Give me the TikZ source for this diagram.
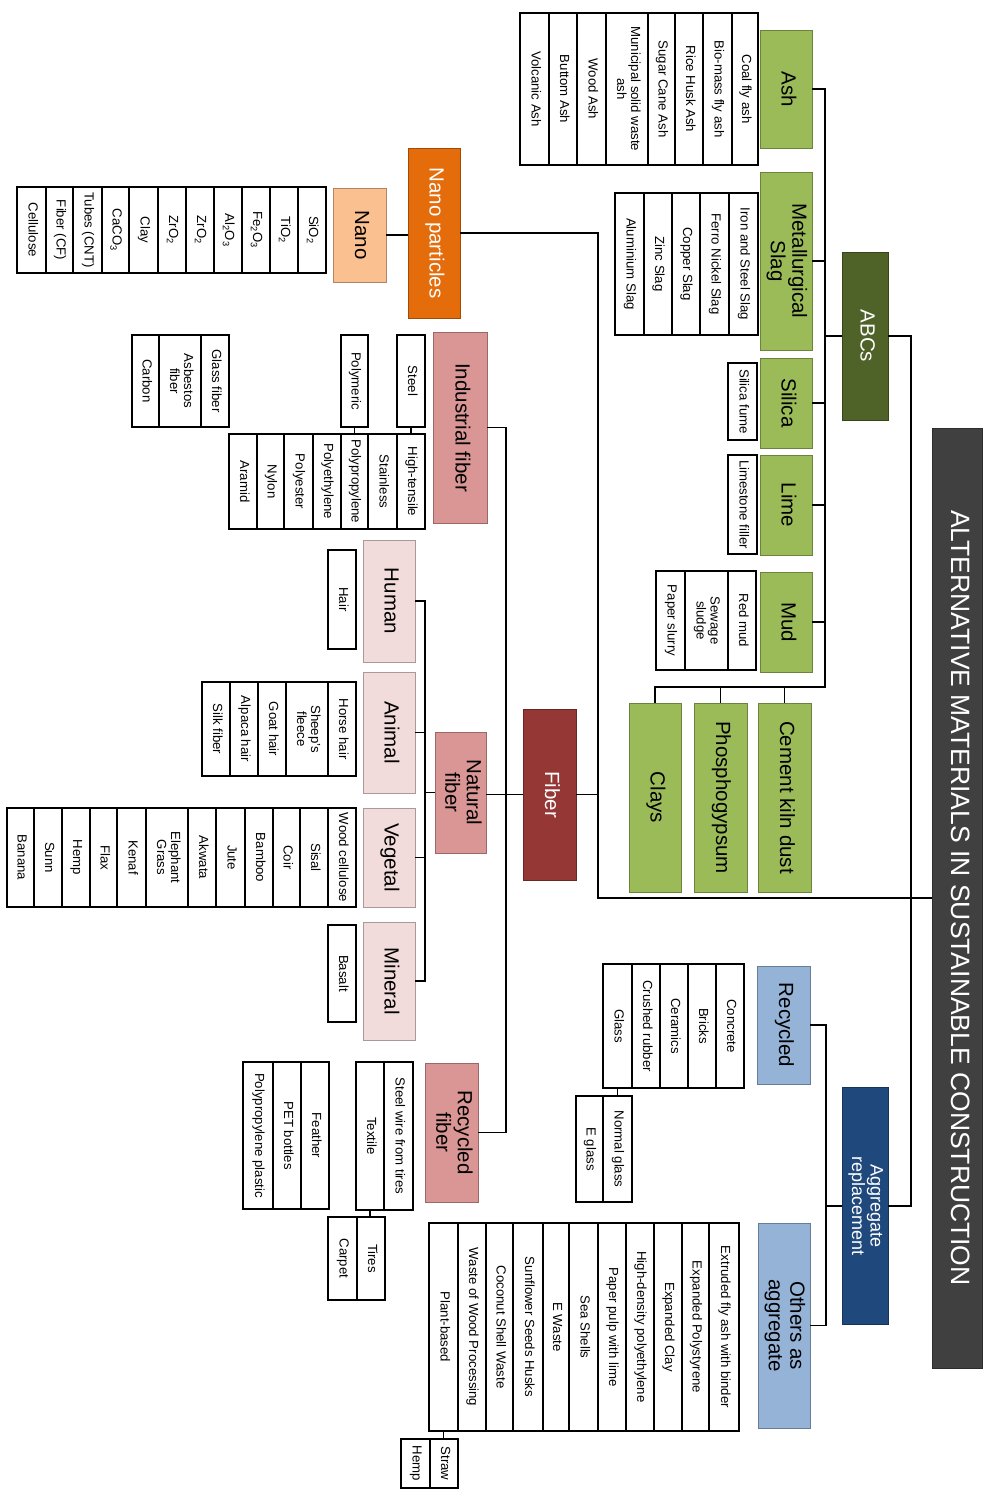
\documentclass[tikz,border=0pt]{standalone}
\usepackage{fontspec}
\setmainfont{Liberation Sans}
\usepackage{graphicx}
\definecolor{grn}{HTML}{9BBB59}
\definecolor{olv}{HTML}{4F6228}
\definecolor{ora}{HTML}{E46C0A}
\definecolor{lora}{HTML}{FAC090}
\definecolor{dred}{HTML}{953735}
\definecolor{pnk}{HTML}{D99694}
\definecolor{lpnk}{HTML}{F2DCDB}
\definecolor{dblu}{HTML}{1F497D}
\definecolor{lblu}{HTML}{95B3D7}
\definecolor{ttl}{HTML}{404040}
\newcommand\rtxt[1]{\rotatebox{-90}{\begin{tabular}{@{}c@{}}#1\end{tabular}}}
\newcommand\celltab[4]{\foreach \xa/\xb/\tx [count=\k] in {#4} {\node[cellbox, minimum width={\xb-\xa}, minimum height=#3] (#1\k) at ({(\xa+\xb)/2},#2) {\rtxt{\tx}};}}
\begin{document}
\begin{tikzpicture}[x=1pt,y=-1pt,
  cellbox/.style={draw, line width=1.5pt, fill=white, inner sep=0pt, font=\fontsize{13.2}{14}\selectfont},
  colbox/.style={fill=#1, draw=#1!70!black, line width=0.8pt, inner sep=0pt},
  bigtxt/.style={font=\fontsize{20.5}{21.5}\selectfont},
  conn/.style={line width=1.4pt, black}]
\fill[white] (0,0) rectangle (987,1491);
\useasboundingbox (0,0) rectangle (987,1491);

% title and main categories
\node[colbox=ttl, minimum width=50, minimum height=940, text=white, font=\fontsize{26.5}{27}\selectfont] (title) at (957,898) {\rtxt{ALTERNATIVE MATERIALS IN SUSTAINABLE CONSTRUCTION}};
\node[colbox=olv, minimum width=46, minimum height=168, text=white, bigtxt] (abcs) at (865,336) {\rtxt{ABCs}};
\node[colbox=dblu, minimum width=46, minimum height=237, text=white, font=\fontsize{18}{18}\selectfont] (agg) at (865,1206) {\rtxt{Aggregate\\replacement}};
\node[colbox=ora, minimum width=52, minimum height=170, text=white, bigtxt] (nanop) at (434,233) {\rtxt{Nano particles}};
\node[colbox=dred, minimum width=53, minimum height=171, text=white, bigtxt] (fiber) at (549.5,794.5) {\rtxt{Fiber}};

% ABCs children
\node[colbox=grn, minimum width=52, minimum height=118, bigtxt] (ash) at (786,89) {\rtxt{Ash}};
\node[colbox=grn, minimum width=52, minimum height=178, bigtxt] (slag) at (786,261) {\rtxt{Metallurgical\\Slag}};
\node[colbox=grn, minimum width=52, minimum height=90, bigtxt] (silica) at (786,403) {\rtxt{Silica}};
\node[colbox=grn, minimum width=52, minimum height=100, bigtxt] (lime) at (786,505) {\rtxt{Lime}};
\node[colbox=grn, minimum width=52, minimum height=100, bigtxt] (mud) at (786,622) {\rtxt{Mud}};
\node[colbox=grn, minimum width=52, minimum height=189, bigtxt] (clays) at (655,797.5) {\rtxt{Clays}};
\node[colbox=grn, minimum width=53, minimum height=189, bigtxt] (phos) at (720.5,797.5) {\rtxt{Phosphogypsum}};
\node[colbox=grn, minimum width=53, minimum height=189, bigtxt] (ckd) at (784.5,797.5) {\rtxt{Cement kiln dust}};

\celltab{ashT}{89}{152}{732/758/Coal fly ash, 703/732/Bio-mass fly ash, 675/703/Rice Husk Ash, 648/675/Sugar Cane Ash, 606/648/{Municipal solid waste\\ash}, 577/606/Wood Ash, 549/577/Buttom Ash, 520/549/Volcanic Ash}
\celltab{slagT}{264}{142}{729/758/Iron and Steel Slag, 700/729/Ferro Nickel Slag, 672/700/Copper Slag, 644/672/Zinc Slag, 615/644/Aluminium Slag}
\celltab{silT}{401.5}{77}{728/757/Silica fume}
\celltab{limT}{504.5}{99}{728/757/Limestone filler}
\celltab{mudT}{620.5}{99}{728/756/Red mud, 685/728/{Sewage\\sludge}, 656/685/Paper slurry}

% Aggregate children
\node[colbox=lblu, minimum width=53, minimum height=118, bigtxt] (recyc) at (783.5,1025) {\rtxt{Recycled}};
\node[colbox=lblu, minimum width=52, minimum height=205, bigtxt] (others) at (784,1325.5) {\rtxt{Others as\\aggregate}};
\celltab{rgA}{1026}{124}{716/744/Concrete, 688/716/Bricks, 660/688/Ceramics, 632/660/Crushed rubber, 603/632/Glass}
\celltab{rgB}{1149}{106}{603/632/Normal glass, 576/603/E glass}
\celltab{oaA}{1327}{208}{709/739/Extruded fly ash with binder, 682/709/Expanded Polystyrene, 654/682/Expanded Clay, 626/654/High-density polyethylene, 598/626/Paper pulp with lime, 569/598/Sea Shells, 543/569/E Waste, 513/543/Sunflower Seeds Husks, 486/513/Coconut Shell Waste, 458/486/Waste of Wood Processing, 429/458/Plant-based}
\celltab{oaB}{1463.5}{49}{430/458/Straw, 401/430/Hemp}

% Nano
\node[colbox=lora, minimum width=53, minimum height=94, bigtxt] (nano) at (359.5,235) {\rtxt{Nano}};
\celltab{nanoT}{230}{86}{298/326/SiO\textsubscript{2}, 270/298/TiO\textsubscript{2}, 242/270/Fe\textsubscript{2}O\textsubscript{3}, 214/242/Al\textsubscript{2}O\textsubscript{3}, 186/214/ZrO\textsubscript{2}, 158/186/ZrO\textsubscript{2}, 129/158/Clay, 102/129/CaCO\textsubscript{3}, 73/102/Tubes (CNT), 46/73/Fiber (CF), 17/46/Cellulose}

% Fiber children
\node[colbox=pnk, minimum width=54, minimum height=191, bigtxt] (indf) at (460,427.5) {\rtxt{Industrial fiber}};
\node[colbox=pnk, minimum width=51, minimum height=121, bigtxt] (natf) at (460.5,792.5) {\rtxt{Natural\\fiber}};
\node[colbox=pnk, minimum width=53, minimum height=139, bigtxt] (recf) at (451.5,1132.5) {\rtxt{Recycled\\fiber}};

% Industrial
\celltab{steel}{381}{92}{397/425/Steel}
\celltab{polym}{381}{92}{341/368/Polymeric}
\celltab{indB}{481.5}{95}{397/425/High-tensile, 368/397/Stainless, 341/368/Polypropylene, 313/341/Polyethylene, 284/313/Polyester, 257/284/Nylon, 229/257/Aramid}
\celltab{glsT}{381}{92}{201/229/Glass fiber, 159/201/{Asbestos\\fiber}, 132/159/Carbon}

% Natural
\node[colbox=lpnk, minimum width=52, minimum height=122, bigtxt] (human) at (389,601) {\rtxt{Human}};
\node[colbox=lpnk, minimum width=52, minimum height=121, bigtxt] (animal) at (389,732.5) {\rtxt{Animal}};
\node[colbox=lpnk, minimum width=52, minimum height=99, bigtxt] (vegetal) at (389,857.5) {\rtxt{Vegetal}};
\node[colbox=lpnk, minimum width=52, minimum height=118, bigtxt] (mineral) at (389,981) {\rtxt{Mineral}};
\celltab{hairT}{599.5}{99}{328/356/Hair}
\celltab{aniT}{729}{94}{328/356/Horse hair, 286/328/{Sheep's\\fleece}, 258/286/Goat hair, 230/258/Alpaca hair, 202/230/Silk fiber}
\celltab{vegT}{857.5}{99}{328/356/Wood cellulose, 300/328/Sisal, 273/300/Coir, 245/273/Bamboo, 216/245/Jute, 188/216/Akwata, 146/188/{Elephant\\Grass}, 117/146/Kenaf, 90/117/Flax, 62/90/Hemp, 34/62/Sunn, 7/34/Banana}
\celltab{basT}{973.5}{97}{328/356/Basalt}

% Recycled fiber
\celltab{rfA}{1136}{148}{384/413/Steel wire from tires, 356/384/Textile}
\celltab{rfB}{1258.5}{83}{357/385/Tires, 328/357/Carpet}
\celltab{rfC}{1135.5}{147}{301/329/Feather, 273/301/PET bottles, 243/273/Polypropylene plastic}

% connectors
\coordinate (vt) at (911,898);
\coordinate (vf) at (598,898);
\coordinate (va) at (825,687);
\coordinate (vg) at (826,0);
\coordinate (vn) at (506,0);
\coordinate (vh) at (425,0);
\draw[conn] (abcs.east) -- (abcs.east -| vt) -- (agg.east -| vt) -- (agg.east);
\draw[conn] (title.west) -- (vf) |- (nanop.east);
\draw[conn] (fiber.east) -- (fiber.east -| vf);
\draw[conn] (abcs.west) -- (abcs.west -| va);
\draw[conn] (ash.east) -- (ash.east -| va) -- (va) -| (clays.north);
\draw[conn] (slag.east) -- (slag.east -| va);
\draw[conn] (silica.east) -- (silica.east -| va);
\draw[conn] (lime.east) -- (lime.east -| va);
\draw[conn] (mud.east) -- (mud.east -| va);
\draw[conn] (phos.north) -- (phos.north |- va);
\draw[conn] (ckd.north) -- (ckd.north |- va);
\draw[conn] (agg.west) -- (agg.west -| vg);
\draw[conn] (recyc.east) -- (recyc.east -| vg) -- (others.east -| vg) -- (others.east);
\draw[conn] (nano.east) -- (nano.east -| nanop.west);
\draw[conn] (fiber.west) -- (fiber.west -| natf.east);
\draw[conn] (indf.east) -- (indf.east -| vn) -- (recf.east -| vn) -- (recf.east);
\draw[conn] (natf.west) -- (natf.west -| vh);
\draw[conn] (human.east) -- (human.east -| vh) -- (mineral.east -| vh) -- (mineral.east);
\draw[conn] (animal.east) -- (animal.east -| vh);
\draw[conn] (vegetal.east) -- (vegetal.east -| vh);
\draw[conn] (steel1.south) -- (steel1.south |- indB1.north);
\draw[conn] (polym1.south) -- (polym1.south |- indB3.north);
\draw[conn] (rfA2.south) -- (rfA2.south |- rfB1.north);
\draw[conn] (rgA5.south) -- (rgA5.south |- rgB1.north);
\draw[conn] (oaA11.south) -- (oaA11.south |- oaB1.north);
\end{tikzpicture}
\end{document}
